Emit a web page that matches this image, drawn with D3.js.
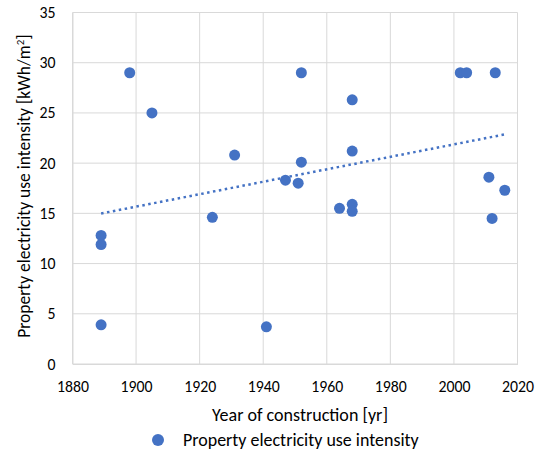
<!DOCTYPE html>
<html>
<head>
<meta charset="utf-8">
<script src="https://cdn.jsdelivr.net/npm/d3@7"></script>
<style>
  html, body { margin: 0; padding: 0; background: #fff; }
  text { font-family: Carlito, Lato, "Liberation Sans", sans-serif; fill: #000; }
</style>
</head>
<body>
<svg id="chart" width="541" height="452"></svg>
<script>
// Year of construction for each property
const years = [1889, 1889, 1889, 1898, 1905, 1924, 1931, 1941, 1947, 1951, 1952, 1952,
               1964, 1968, 1968, 1968, 1968, 2002, 2004, 2013, 2011, 2012, 2016];
// Property electricity use intensity [kWh/m²]
const intensity = [3.9, 12.8, 11.9, 29, 25, 14.6, 20.8, 3.7, 18.3, 18, 20.1, 29,
                   15.5, 26.3, 21.2, 15.9, 15.2, 29, 29, 29, 18.6, 14.5, 17.3];
const xTicks = [1880, 1900, 1920, 1940, 1960, 1980, 2000, 2020];
const yTicks = [0, 5, 10, 15, 20, 25, 30, 35];
const seriesName = "Property electricity use intensity";

const svg = d3.select("#chart");
const m = { left: 72.5, right: 517.5, top: 12.5, bottom: 364 };
const blue = "#4472C4";
const grid = "#d9d9d9";
const font = "Carlito, Lato, 'Liberation Sans', sans-serif";

// scale a text's font size so that it spans the given width
function fitWidth(sel, width) {
  const base = 16;
  sel.style("font-size", base + "px");
  const w = sel.node().getComputedTextLength();
  sel.style("font-size", (base * width / w).toFixed(2) + "px");
}

const x = d3.scaleLinear().domain([1880, 2020]).range([m.left, m.right]);
const y = d3.scaleLinear().domain([0, 35]).range([m.bottom, m.top]);

// gridlines
svg.append("g").selectAll("line").data(xTicks).join("line")
  .attr("x1", d => x(d)).attr("x2", d => x(d))
  .attr("y1", m.top).attr("y2", m.bottom)
  .attr("stroke", grid).attr("stroke-width", 1);
svg.append("g").selectAll("line").data(yTicks).join("line")
  .attr("x1", m.left).attr("x2", m.right)
  .attr("y1", d => y(d)).attr("y2", d => y(d))
  .attr("stroke", grid).attr("stroke-width", 1);

// axes
const tickSize = "15.8px";
const xAxis = d3.axisBottom(x).tickValues(xTicks).tickSize(0).tickPadding(17).tickFormat(d3.format("d"));
const gx = svg.append("g").attr("transform", `translate(0,${m.bottom})`).call(xAxis);
gx.select(".domain").attr("stroke", grid);
gx.selectAll("text").style("font-size", tickSize).attr("fill", "#000").style("font-family", font);

const yAxis = d3.axisLeft(y).tickValues(yTicks).tickSize(0).tickPadding(17);
const gy = svg.append("g").attr("transform", `translate(${m.left},0)`).call(yAxis);
gy.select(".domain").attr("stroke", grid);
gy.selectAll("text").style("font-size", tickSize).attr("fill", "#000").style("font-family", font);

// linear trendline (least squares)
const n = years.length;
const mx = d3.mean(years), my = d3.mean(intensity);
let sxy = 0, sxx = 0;
for (let i = 0; i < n; i++) {
  sxy += (years[i] - mx) * (intensity[i] - my);
  sxx += (years[i] - mx) ** 2;
}
const slope = sxy / sxx, intercept = my - slope * mx;
const [x0, x1] = d3.extent(years);
svg.append("line")
  .attr("x1", x(x0)).attr("y1", y(intercept + slope * x0))
  .attr("x2", x(x1)).attr("y2", y(intercept + slope * x1))
  .attr("stroke", blue).attr("stroke-width", 2.5)
  .attr("stroke-dasharray", "2.5 3.5");

// points
svg.append("g").selectAll("circle").data(years).join("circle")
  .attr("cx", d => x(d)).attr("cy", (d, i) => y(intensity[i]))
  .attr("r", 5.5).attr("fill", blue);

// axis titles
const xt = svg.append("text").attr("x", 300).attr("y", 421)
  .attr("text-anchor", "middle")
  .text("Year of construction [yr]");
fitWidth(xt, 176);

const yt = svg.append("text")
  .attr("transform", `translate(29.5,186) rotate(-90)`)
  .attr("text-anchor", "middle").style("font-size", "17.5px");
yt.append("tspan").text("Property electricity use intensity [kWh/m");
yt.append("tspan").attr("dy", -6).style("font-size", "11px").text("2");
yt.append("tspan").attr("dy", 6).text("]");

// legend
svg.append("circle").attr("cx", 158).attr("cy", 440).attr("r", 6).attr("fill", blue);
const lt = svg.append("text").attr("x", 183).attr("y", 446).text(seriesName);
fitWidth(lt, 236);
</script>
</body>
</html>
